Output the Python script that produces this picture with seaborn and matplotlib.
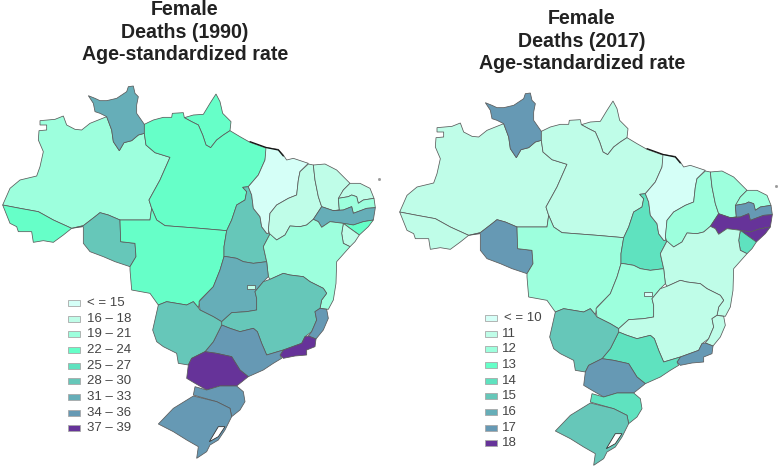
import matplotlib
matplotlib.use('Agg')
import matplotlib.pyplot as plt
import pandas as pd
import seaborn as sns

# state order used by the value lists
states = ['AM', 'RR', 'AP', 'PA', 'AC', 'RO', 'MT', 'TO', 'MA', 'PI', 'CE', 'RN', 'PB', 'PE', 'AL', 'SE',
          'BA', 'GO', 'DF', 'MG', 'ES', 'RJ', 'SP', 'MS', 'PR', 'SC', 'RS']

# bin index of each state
bins_1990 = [2, 6, 3, 3, 3, 5, 3, 5, 0, 1, 1, 1, 2, 6, 3, 1, 2, 6, 1, 5, 7, 8, 7, 5, 8, 7, 7]
bins_2017 = [1, 7, 1, 1, 1, 7, 2, 4, 0, 2, 2, 2, 7, 8, 8, 4, 1, 2, 0, 1, 1, 7, 4, 5, 7, 4, 5]

labels_1990 = ['< = 15', '16 – 18', '19 – 21', '22 – 24', '25 – 27', '28 – 30', '31 – 33', '34 – 36', '37 – 39']
labels_2017 = ['< = 10', '11', '12', '13', '14', '15', '16', '17', '18']

bin_colors = ['#D5FFF7', '#BFFDE8', '#9DFFDD', '#66FFC8', '#5FE2BF', '#66C7B9', '#66AEB8', '#6699B4', '#663399']


def north(pts):
    return [(x / 3, 80 + y / 3) for x, y in pts]


def south(pts):
    return [(50 + x / 3, 270 + y / 3) for x, y in pts]


def east(pts):
    return [(250 + x / 3, 140 + y / 3) for x, y in pts]


# outlines, in pixels
outlines = {
    'AM': north([(120, 122), (165, 118), (190, 108), (200, 135), (225, 148), (245, 150), (270, 130), (320, 110),
                 (335, 150), (340, 185), (358, 212), (372, 188), (395, 182), (415, 165), (433, 160), (438, 195),
                 (465, 218), (510, 232), (480, 300), (447, 360), (455, 385), (450, 420), (360, 420), (325, 405),
                 (300, 398), (285, 410), (250, 437), (215, 445), (160, 420), (115, 395), (60, 385), (8, 375),
                 (30, 325), (60, 300), (110, 288), (120, 260), (130, 215), (115, 180), (117, 152), (140, 150),
                 (140, 135), (120, 135)]),
    'RR': north([(265, 47), (285, 55), (300, 62), (320, 62), (350, 55), (380, 35), (385, 20), (400, 18), (405, 40),
                 (415, 50), (410, 75), (410, 100), (433, 133), (433, 160), (415, 165), (395, 182), (372, 188),
                 (358, 212), (340, 185), (335, 150), (320, 110), (300, 100), (285, 95), (280, 70)]),
    'AP': north([(553, 113), (580, 105), (610, 103), (630, 70), (648, 42), (660, 65), (668, 100), (693, 125),
                 (690, 152), (670, 165), (650, 180), (632, 203), (618, 195), (608, 165), (595, 135), (575, 125)]),
    'PA': north([(433, 133), (460, 120), (490, 112), (515, 112), (517, 100), (550, 98), (553, 113), (575, 125),
                 (595, 135), (608, 165), (618, 195), (632, 203), (650, 180), (670, 165), (690, 152), (720, 170),
                 (750, 187), (800, 205), (795, 240), (775, 285), (745, 320), (728, 322), (740, 335), (735, 360),
                 (710, 375), (695, 420), (680, 452), (600, 445), (495, 437), (470, 420), (455, 385), (447, 360),
                 (480, 300), (510, 232), (465, 218), (438, 195), (433, 160)]),
    'AC': north([(8, 375), (60, 385), (115, 395), (160, 420), (215, 445), (190, 465), (160, 487), (130, 482),
                 (100, 487), (95, 455), (55, 455), (50, 440), (30, 430), (20, 405)]),
    'RO': north([(215, 445), (250, 437), (285, 410), (300, 398), (325, 405), (360, 420), (362, 485), (405, 490),
                 (408, 530), (390, 560), (345, 545), (310, 530), (270, 515), (250, 490), (250, 440)]),
    'MT': north([(360, 420), (450, 420), (455, 385), (470, 420), (495, 437), (600, 445), (680, 452), (672, 500),
                 (672, 530), (660, 570), (640, 620), (600, 660), (595, 683), (580, 665), (560, 675), (530, 670),
                 (500, 665), (475, 675), (450, 640), (395, 630), (390, 570), (390, 560), (408, 530), (405, 490),
                 (362, 485)]),
    'TO': north([(728, 322), (745, 320), (755, 345), (760, 385), (780, 410), (785, 440), (800, 460), (810, 462),
                 (790, 500), (800, 545), (760, 550), (730, 545), (710, 535), (680, 530), (672, 530), (672, 500),
                 (680, 452), (695, 420), (710, 375), (735, 360), (740, 335)]),
    'MA': east([(48, 22), (85, 28), (100, 45), (110, 60), (130, 55), (175, 70), (150, 95), (145, 120), (140, 165),
                (115, 175), (80, 195), (60, 220), (55, 280), (50, 280), (35, 260), (30, 230), (10, 205), (5, 165),
                (-5, 140), (25, 105), (45, 60)]),
    'PI': east([(175, 72), (190, 75), (195, 120), (205, 170), (215, 200), (190, 238), (170, 255), (150, 260),
                (120, 258), (105, 285), (80, 300), (60, 285), (55, 270), (60, 220), (80, 195), (115, 175),
                (140, 165), (145, 120), (150, 95)]),
    'CE': east([(190, 75), (225, 72), (260, 90), (300, 130), (280, 150), (265, 180), (268, 210), (250, 212),
                (215, 200), (205, 170), (195, 120)]),
    'RN': east([(300, 130), (330, 130), (360, 145), (372, 175), (340, 180), (325, 190), (320, 170), (305, 165),
                (295, 170), (265, 175), (280, 150)]),
    'PB': east([(265, 175), (295, 170), (305, 165), (320, 170), (325, 190), (340, 180), (372, 175), (376, 203),
                (350, 205), (310, 220), (305, 200), (280, 210), (250, 212), (268, 210)]),
    'PE': east([(215, 200), (250, 212), (280, 210), (305, 200), (310, 220), (350, 205), (376, 203), (370, 240),
                (340, 245), (310, 255), (280, 250), (240, 245), (215, 262), (205, 245), (190, 238)]),
    'AL': east([(280, 250), (310, 255), (340, 245), (370, 240), (355, 260), (328, 285), (300, 265)]),
    'SE': east([(280, 250), (300, 265), (328, 285), (315, 305), (300, 320), (280, 310), (275, 280)]),
    'BA': east([(60, 282), (80, 300), (105, 285), (120, 258), (150, 260), (170, 255), (190, 238), (205, 245),
                (215, 262), (240, 245), (280, 250), (275, 280), (280, 310), (300, 320), (260, 365), (258, 430),
                (250, 480), (235, 508), (210, 505), (215, 480), (230, 460), (220, 445), (180, 425), (160, 410),
                (120, 405), (100, 400), (60, 418), (55, 410), (50, 365), (40, 320)]),
    'GO': south([(530, -40), (560, -35), (580, -25), (610, -20), (650, -25), (655, 20), (640, 35), (615, 65),
                 (620, 85), (620, 120), (590, 125), (545, 128), (515, 155), (490, 140), (450, 120), (447, 95),
                 (490, 50), (510, 0), (522, -40)]),
    'DF': south([(590, 45), (615, 45), (615, 58), (590, 58)]),
    'MG': south([(640, 35), (660, 28), (700, 10), (720, 15), (760, 20), (780, 35), (820, 55), (830, 70), (815, 90),
                 (810, 115), (795, 125), (800, 150), (785, 185), (765, 200), (755, 220), (700, 240), (650, 255),
                 (635, 220), (622, 185), (610, 175), (570, 185), (540, 175), (515, 165), (515, 155), (545, 128),
                 (590, 125), (620, 120), (620, 85), (615, 65)]),
    'ES': south([(810, 115), (830, 118), (835, 145), (820, 180), (798, 207), (775, 198), (785, 185), (800, 150),
                 (795, 125)]),
    'RJ': south([(775, 198), (798, 207), (795, 230), (770, 240), (770, 255), (735, 258), (700, 265), (690, 255),
                 (700, 240), (755, 220), (765, 200)]),
    'SP': south([(515, 165), (540, 175), (570, 185), (610, 175), (622, 185), (635, 220), (650, 255), (700, 240),
                 (690, 255), (695, 265), (670, 280), (640, 300), (595, 320), (570, 300), (545, 260), (500, 250),
                 (465, 245), (490, 215)]),
    'MS': south([(325, 105), (350, 95), (380, 100), (410, 105), (430, 95), (445, 113), (450, 120), (490, 140),
                 (515, 155), (515, 165), (490, 215), (465, 245), (425, 265), (415, 285), (385, 280), (380, 250),
                 (340, 230), (320, 215), (308, 180)]),
    'PR': south([(465, 245), (500, 250), (545, 260), (570, 300), (595, 320), (560, 348), (510, 348), (470, 360),
                 (435, 340), (410, 325), (415, 285), (425, 265)]),
    'SC': south([(435, 350), (470, 360), (510, 348), (560, 348), (580, 365), (585, 395), (570, 420), (545, 440),
                 (540, 415), (500, 395), (440, 378), (430, 375)]),
    'RS': south([(430, 378), (500, 395), (540, 415), (545, 440), (530, 470), (525, 480), (505, 510), (480, 525),
                 (470, 545), (440, 565), (445, 530), (410, 510), (370, 485), (325, 462), (370, 415)]),
}
lagoon = south([(505, 470), (525, 470), (505, 500), (478, 515)])
dark_coast = north([(750, 185), (800, 203), (835, 210), (850, 228)])
speck = north([(1138, 298)])

df = pd.DataFrame({'state': states, '1990': bins_1990, '2017': bins_2017})

sns.set_theme(style='white')
plt.rcParams['font.family'] = ['Liberation Sans', 'DejaVu Sans']
palette = sns.color_palette(bin_colors)

fig, ax = plt.subplots(figsize=(7.78, 4.67), dpi=100)
fig.subplots_adjust(left=0, right=1, top=1, bottom=0)
ax.set_xlim(0, 778)
ax.set_ylim(467, 0)
ax.axis('off')


def draw_map(column, dx, dy):
    for _, row in df.iterrows():
        pts = outlines[row['state']]
        ax.fill([p[0] + dx for p in pts], [p[1] + dy for p in pts], facecolor=palette[row[column]],
                edgecolor='#5a5a5a', linewidth=0.55, zorder=3 if row['state'] == 'DF' else 2)
    ax.fill([p[0] + dx for p in lagoon], [p[1] + dy for p in lagoon], facecolor='white',
            edgecolor='#333333', linewidth=0.6, zorder=3)
    ax.plot([p[0] + dx for p in dark_coast], [p[1] + dy for p in dark_coast], color='#111111', lw=0.9, zorder=4)
    ax.plot([speck[0][0] + dx], [speck[0][1] + dy], 's', ms=1, color='#999999')


def draw_legend(labels, x, y):
    for i, lab in enumerate(labels):
        ypos = y + i * 15.65
        ax.add_patch(plt.Rectangle((x, ypos - 3), 12, 6, facecolor=palette[i], edgecolor='#a8a8a8', linewidth=0.6))
        ax.text(x + 19 if len(lab) > 2 else x + 17, ypos, lab, fontsize=9.5, color='#444444', va='center', ha='left')


def draw_title(lines, x, ys):
    for line, y in zip(lines, ys):
        ax.text(x, y, line, fontsize=14.1, fontweight='bold', color='#222222', ha='center', va='baseline')


draw_map('1990', 0, 0)
draw_map('2017', 397, 7)
draw_legend(labels_1990, 68, 303)
draw_legend(labels_2017, 485, 318)
draw_title(['Female', 'Deaths (1990)', 'Age-standardized rate'], 185, [14.7, 37.5, 59.5])
draw_title(['Female', 'Deaths (2017)', 'Age-standardized rate'], 582, [24, 46.7, 69])

fig.savefig('out.png', dpi=100)
